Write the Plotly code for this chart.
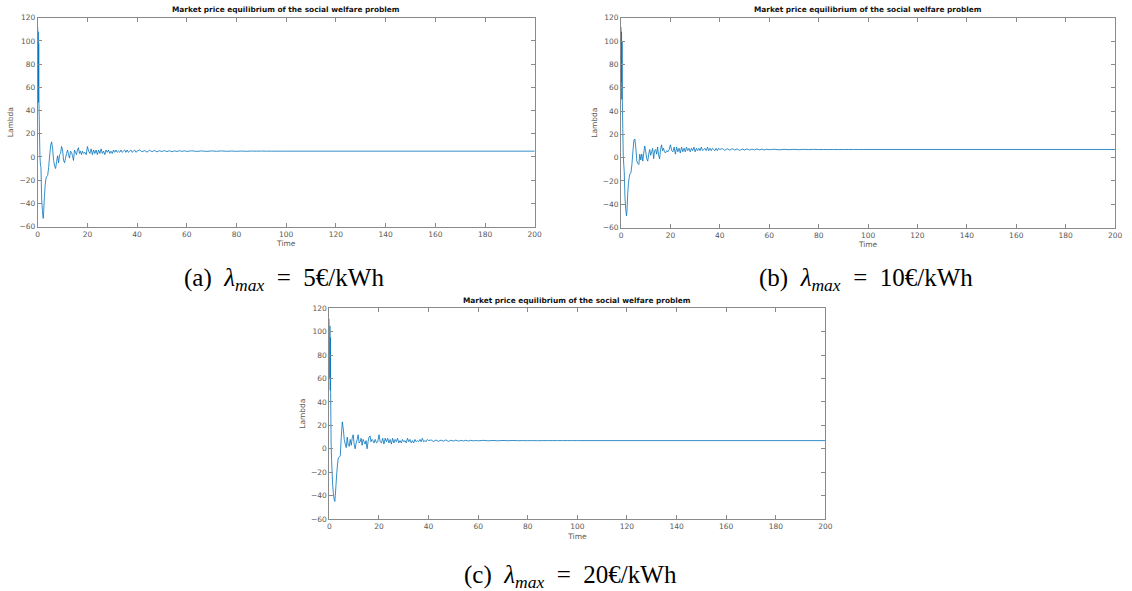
import plotly.graph_objects as go

# ---------------- data ----------------
TIME = [0, 0.1, 0.2, 0.3, 0.4, 0.5, 0.7, 0.9, 1.1, 1.3, 1.6, 1.9, 2.2, 2.4, 2.7, 3.0, 3.3, 3.6,
        4.0, 4.4, 4.8, 5.2, 5.6, 6.0, 6.4, 6.8, 7.2, 7.6, 8.0, 8.4, 8.8, 9.2, 9.6, 10.0, 10.4, 10.8,
        11.2, 11.6, 12.0, 12.4, 12.8, 13.2, 13.6, 14.0, 14.4, 14.8, 15.2, 15.6, 16.0, 16.4, 16.8,
        17.2, 17.6, 18.0,
        18.5, 19.0, 19.5, 20.0, 20.5, 21.0, 21.5, 22.0, 22.5, 23.0, 23.5, 24.0, 24.5, 25.0, 25.5,
        26.0, 26.5, 27.0, 27.5, 28.0, 28.5, 29.0, 29.5, 30.0, 30.5, 31.0, 31.5, 32.0, 32.5, 33.0,
        33.5, 34.0, 34.5, 35.0, 35.5, 36.0, 36.5, 37.0, 37.5, 38.0, 38.5, 39.0, 39.5, 40.0,
        41, 42, 43, 44, 45, 46, 47, 48, 49, 50, 51, 52, 53, 54, 55, 56, 57, 58, 59, 60,
        62, 64, 66, 68, 70, 72, 74, 76, 78, 80, 82, 84, 86, 88, 90, 92, 94, 96, 98, 100,
        200]

LAMBDA_A = [112, 62, 108, 47, 98, 46, 22, 0, -7, -9, -37, -46, -53, -47, -34, -24, -19, -17,
            -16, -9, 1, 10, 13, 7, -3, -8, -10, -4,
            1, -5, 2, 3, 9, 6, -3, -5, -1, 3,
            6, 2, -1, 5, 4, 1, -3, 6, 4, 2,
            6, 8, 3, 5, 2, 5,
            3, 4, 2, 9, 5, 3, 7, 2, 6, 3,
            6, 2, 6, 3, 7, 3, 5, 2, 6, 4,
            6, 3, 5, 3, 6, 4, 6, 4, 5, 4,
            6, 4, 5, 6, 4, 6, 4, 5, 6, 4,
            5, 6, 4, 5,
            6, 4.5, 5.5, 4.2, 5.8, 4.6, 5.6, 4.4, 5.4, 4.7, 5.5, 4.6, 5.4, 4.5, 5.3, 4.7, 5.4, 4.8, 5.3, 4.8,
            5.3, 4.8, 5.2, 4.8, 5.2, 4.9, 5.2, 4.9, 5.1, 4.9, 5.1, 4.9, 5.1, 5.0, 5.1, 5.0, 5.0, 5.0, 5.0, 5.0,
            5.0]

LAMBDA_B = [112, 65, 108, 50, 100, 52, 25, 2, -6, -12, -35, -44, -50, -46, -31, -22, -17, -14,
            -13, -6, 5, 15, 16, 8, -3, -5, -6, 3,
            -2, 3, -3, 4, 10, 5, -1, -3, 3, 7,
            2, 5, 8, -1, 6, 7, 3, 9, 2, -1,
            7, 11, 6, 8, 5, 4,
            6, 5, 7, 11, 6, 5, 9, 3, 9, 5,
            8, 4, 9, 5, 8, 5, 9, 6, 8, 5,
            8, 6, 9, 5, 8, 6, 8, 6, 9, 6,
            7, 8, 6, 9, 6, 8, 6, 8, 7, 6,
            8, 6, 8, 7,
            7.8, 6.3, 7.6, 6.4, 7.7, 6.5, 7.5, 6.2, 7.4, 6.6, 7.5, 6.5, 7.3, 6.6, 7.4, 6.7, 7.3, 6.6, 7.2, 6.8,
            7.2, 6.7, 7.1, 6.8, 7.1, 6.8, 7.1, 6.9, 7.1, 6.9, 7.0, 6.9, 7.0, 6.9, 7.0, 7.0, 7.0, 7.0, 7.0, 7.0,
            7.0]

LAMBDA_C = [111, 60, 105, 50, 95, 48, 5, -10, -20, -30, -38, -43, -45, -40, -30, -20, -13, -8,
            -7, -6, 10, 23, 17, 8, 4, 1, 10, 3,
            2, 8, 3, 9, 12, 4, 0, 5, 8, 12,
            5, 6, 9, 3, 8, 6, 4, 7, 0, 6,
            10, 11, 6, 8, 7, 5,
            8, 5, 6, 12, 6, 5, 9, 4, 9, 6,
            9, 5, 8, 4, 9, 5, 8, 6, 9, 5,
            7, 5, 8, 6, 7, 5, 9, 6, 8, 5,
            7, 5, 8, 6, 7, 6, 8, 6, 9, 6,
            7, 6, 8, 7,
            7.6, 6.2, 7.5, 6.4, 7.4, 6.5, 7.6, 6.3, 7.3, 6.6, 7.4, 6.5, 7.2, 6.7, 7.3, 6.6, 7.2, 6.8, 7.1, 6.8,
            7.2, 6.8, 7.1, 6.8, 7.1, 6.9, 7.1, 6.9, 7.0, 6.9, 7.0, 6.9, 7.0, 7.0, 7.0, 7.0, 7.0, 7.0, 7.0, 7.0,
            7.0]

X_TICKS = [0, 20, 40, 60, 80, 100, 120, 140, 160, 180, 200]
Y_TICKS = [-60, -40, -20, 0, 20, 40, 60, 80, 100, 120]
PLOT_TITLE = "Market price equilibrium of the social welfare problem"
SP = "&nbsp; "
CAPTIONS = ["(a)" + SP + "<i>λ</i><sub><i>max</i></sub>" + SP + "=" + SP + "5€/kWh",
            "(b)" + SP + "<i>λ</i><sub><i>max</i></sub>" + SP + "=" + SP + "10€/kWh",
            "(c)" + SP + "<i>λ</i><sub><i>max</i></sub>" + SP + "=" + SP + "20€/kWh"]

# ---------------- layout ----------------
W, H = 1132, 591
LINE_COLOR = "#0072BD"
AX_COLOR = "#8a8a8a"
TXT_COLOR = "#595959"

# pixel boxes (left, right, top, bottom)
boxes = [(36, 537, 14, 226), (624, 1122, 14, 227), (330, 830, 309, 523)]
caption_pos = [(284, 280), (871, 280), (573, 581)]
series = [LAMBDA_A, LAMBDA_B, LAMBDA_C]

fig = go.Figure()
layout = dict(width=W, height=H, margin=dict(l=0, r=0, t=0, b=0),
              paper_bgcolor="white", plot_bgcolor="white", showlegend=False,
              annotations=[])

for i, (box, ys) in enumerate(zip(boxes, series)):
    n = "" if i == 0 else str(i + 1)
    l, r, t, b = box
    fig.add_trace(go.Scatter(x=TIME, y=ys, mode="lines",
                             line=dict(color=LINE_COLOR, width=0.8, simplify=False),
                             xaxis="x" + n, yaxis="y" + n))
    common = dict(showgrid=False, zeroline=False, showline=True, linecolor=AX_COLOR,
                  linewidth=1, mirror="ticks", ticks="inside", ticklen=4,
                  tickcolor=AX_COLOR, tickwidth=1,
                  tickfont=dict(family="DejaVu Sans", size=7.5, color=TXT_COLOR))
    layout["xaxis" + n] = dict(common, domain=[l / W, r / W], range=[0, 200],
                               tickvals=X_TICKS, anchor="y" + n,
                               title=dict(text="Time", standoff=3,
                                          font=dict(family="DejaVu Sans", size=7.5, color=TXT_COLOR)))
    layout["yaxis" + n] = dict(common, domain=[1 - b / H, 1 - t / H], range=[-60, 120],
                               tickvals=Y_TICKS, anchor="x" + n,
                               title=dict(text="Lambda", standoff=4,
                                          font=dict(family="DejaVu Sans", size=7.5, color=TXT_COLOR)))
    layout["annotations"].append(dict(
        text="<b>" + PLOT_TITLE + "</b>", xref="paper", yref="paper",
        x=(l + r) / 2 / W, y=1 - (t - 8) / H, xanchor="center", yanchor="middle",
        showarrow=False, font=dict(family="DejaVu Sans", size=7.4, color="#111111")))
    cx, cy = caption_pos[i]
    layout["annotations"].append(dict(
        text=CAPTIONS[i], xref="paper", yref="paper",
        x=cx / W, y=1 - cy / H, xanchor="center", yanchor="middle",
        showarrow=False, font=dict(family="Liberation Serif", size=25, color="black")))

fig.update_layout(**layout)
fig.write_html("out.html")
